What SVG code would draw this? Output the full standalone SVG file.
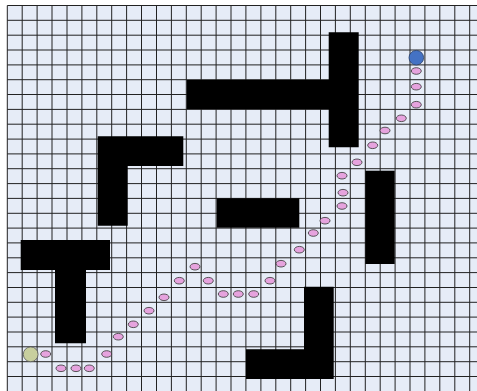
<svg xmlns="http://www.w3.org/2000/svg" width="477" height="391" viewBox="0 0 477 391">
<style>
.bg{fill:#e6ecf7}
.g{stroke:#222;stroke-width:1;fill:none}
.ob{fill:#000}
.p{fill:#e6a3de;stroke:#333;stroke-width:0.8}
</style>
<rect x="0" y="0" width="477" height="391" fill="#fff"/>
<rect class="bg" x="7.3" y="5.5" width="470" height="386"/>
<g id="grid" class="g">
<path d="M7.3 5.5V391M22.2 5.5V391M37.1 5.5V391M52 5.5V391M67 5.5V391M81.9 5.5V391M96.8 5.5V391M111.7 5.5V391M126.6 5.5V391M141.5 5.5V391M156.5 5.5V391M171.4 5.5V391M186.3 5.5V391M201.2 5.5V391M216.1 5.5V391M231 5.5V391M245.9 5.5V391M260.9 5.5V391M275.8 5.5V391M290.7 5.5V391M305.6 5.5V391M320.5 5.5V391M335.4 5.5V391M350.3 5.5V391M365.3 5.5V391M380.2 5.5V391M395.1 5.5V391M410 5.5V391M424.9 5.5V391M439.8 5.5V391M454.8 5.5V391M469.7 5.5V391"/>
<path d="M7.3 5.5H477M7.3 20.3H477M7.3 35.2H477M7.3 50H477M7.3 64.9H477M7.3 79.7H477M7.3 94.5H477M7.3 109.4H477M7.3 124.2H477M7.3 139.1H477M7.3 153.9H477M7.3 168.7H477M7.3 183.6H477M7.3 198.4H477M7.3 213.3H477M7.3 228.1H477M7.3 242.9H477M7.3 257.8H477M7.3 272.6H477M7.3 287.5H477M7.3 302.3H477M7.3 317.1H477M7.3 332H477M7.3 346.8H477M7.3 361.7H477M7.3 376.5H477"/>
</g>
<g id="obstacles">
<path id="obstacle-top" class="ob" d="M186.7 80H328.7V32.3H358.7V147.3H328.7V109H186.7Z"/>
<path id="obstacle-left-L" class="ob" d="M97.7 136.3H183.3V166H127.7V225.7H97.7Z"/>
<path id="obstacle-T" class="ob" d="M20.7 240H110V270H86V343.3H55V270H20.7Z"/>
<rect id="obstacle-center" class="ob" x="216.7" y="198.3" width="82.6" height="29.4"/>
<rect id="obstacle-right" class="ob" x="365.3" y="170.7" width="29.4" height="93.3"/>
<path id="obstacle-bottom-L" class="ob" d="M304 286.7H333.7V379H246V349.3H304Z"/>
</g>
<g id="path">
<ellipse class="p" cx="45.7" cy="354" rx="5" ry="3.3"/>
<ellipse class="p" cx="61" cy="368.3" rx="5" ry="3.3"/>
<ellipse class="p" cx="76" cy="368.3" rx="5" ry="3.3"/>
<ellipse class="p" cx="89.3" cy="368.3" rx="5" ry="3.3"/>
<ellipse class="p" cx="106.7" cy="354" rx="5" ry="3.3"/>
<ellipse class="p" cx="118.3" cy="336.7" rx="5" ry="3.3"/>
<ellipse class="p" cx="133.3" cy="324.3" rx="5" ry="3.3"/>
<ellipse class="p" cx="149" cy="310.7" rx="5" ry="3.3"/>
<ellipse class="p" cx="164" cy="297.3" rx="5" ry="3.3"/>
<ellipse class="p" cx="179.3" cy="280.7" rx="5" ry="3.3"/>
<ellipse class="p" cx="195" cy="266.7" rx="5" ry="3.3"/>
<ellipse class="p" cx="208.3" cy="280.7" rx="5" ry="3.3"/>
<ellipse class="p" cx="223.3" cy="294" rx="5" ry="3.3"/>
<ellipse class="p" cx="238.3" cy="294" rx="5" ry="3.3"/>
<ellipse class="p" cx="253.7" cy="294" rx="5" ry="3.3"/>
<ellipse class="p" cx="270" cy="280.7" rx="5" ry="3.3"/>
<ellipse class="p" cx="281" cy="263.7" rx="5" ry="3.3"/>
<ellipse class="p" cx="299.3" cy="249.7" rx="5" ry="3.3"/>
<ellipse class="p" cx="313.3" cy="233" rx="5" ry="3.3"/>
<ellipse class="p" cx="325" cy="220.7" rx="5" ry="3.3"/>
<ellipse class="p" cx="342" cy="206" rx="5" ry="3.3"/>
<ellipse class="p" cx="343" cy="192.7" rx="5" ry="3.3"/>
<ellipse class="p" cx="342" cy="175.7" rx="5" ry="3.3"/>
<ellipse class="p" cx="357" cy="162.3" rx="5" ry="3.3"/>
<ellipse class="p" cx="372.7" cy="145.3" rx="5" ry="3.3"/>
<ellipse class="p" cx="385" cy="130.5" rx="5" ry="3.3"/>
<ellipse class="p" cx="401.3" cy="118.3" rx="5" ry="3.3"/>
<ellipse class="p" cx="416.3" cy="104.7" rx="5" ry="3.3"/>
<ellipse class="p" cx="416.3" cy="86.7" rx="5" ry="3.3"/>
<ellipse class="p" cx="416.3" cy="71" rx="5" ry="3.3"/>
</g>
<g id="start">
<circle cx="30.7" cy="354.3" r="7.4" fill="#c8cf9e" stroke="#555" stroke-width="0.8"/>
</g>
<g id="goal">
<circle cx="416.3" cy="57.7" r="7.3" fill="#4472c4" stroke="#2a3f66" stroke-width="0.8"/>
</g>
</svg>
